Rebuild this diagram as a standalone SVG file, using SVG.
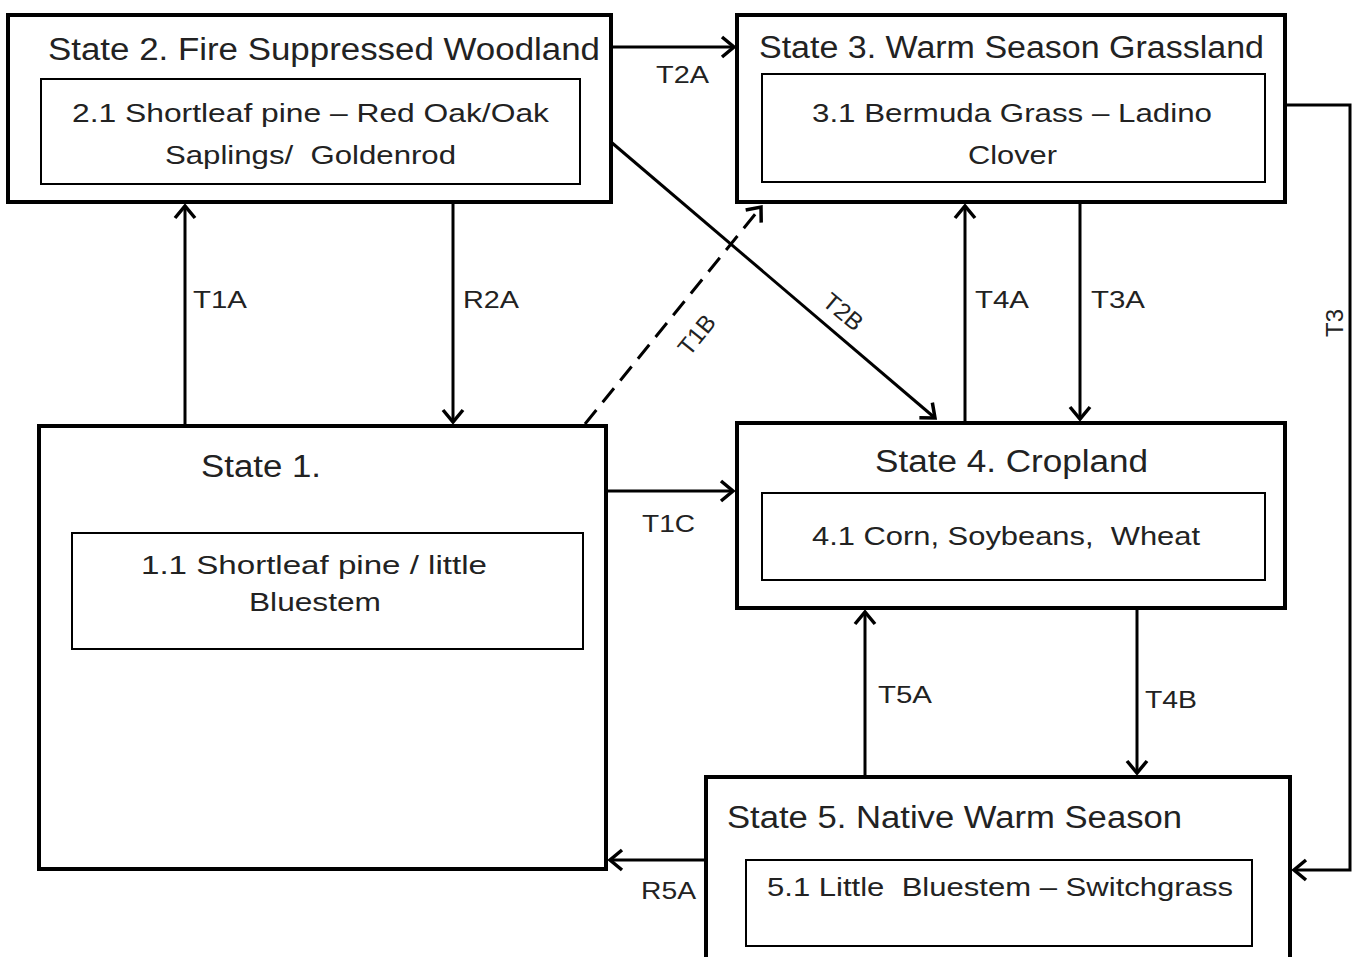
<svg xmlns="http://www.w3.org/2000/svg" width="1355" height="957" viewBox="0 0 1355 957">
<style>
.outer{fill:#fff;stroke:#000;stroke-width:4}
.inner{fill:#fff;stroke:#000;stroke-width:2}
.title{font-family:"Liberation Sans",Arial,sans-serif;font-size:31px;fill:#222}
.sub{font-family:"Liberation Sans",Arial,sans-serif;font-size:25px;fill:#222}
.lbl{font-family:"Liberation Sans",Arial,sans-serif;font-size:24px;fill:#222}
.con{fill:none;stroke:#000;stroke-width:3}
.dash{stroke-dasharray:18 10}
</style>
<defs>
<marker id="arr" markerUnits="userSpaceOnUse" markerWidth="30" markerHeight="30" viewBox="-15 -15 30 30" refX="0" refY="0" orient="auto">
<path d="M-12,-10 L0,0 L-12,10" fill="none" stroke="#000" stroke-width="3.5"/>
</marker>
</defs>
<rect width="1355" height="957" fill="#fff"/>
<g id="connectors">
<line class="con" x1="611" y1="47" x2="734" y2="47" marker-end="url(#arr)"/>
<line class="con" x1="185" y1="426" x2="185" y2="206" marker-end="url(#arr)"/>
<line class="con" x1="453" y1="202" x2="453" y2="422" marker-end="url(#arr)"/>
<line class="con dash" x1="585" y1="424" x2="761" y2="207" marker-end="url(#arr)"/>
<line class="con" x1="611" y1="142" x2="935" y2="418" marker-end="url(#arr)"/>
<line class="con" x1="965" y1="423" x2="965" y2="206" marker-end="url(#arr)"/>
<line class="con" x1="1080" y1="202" x2="1080" y2="419" marker-end="url(#arr)"/>
<polyline class="con" points="1285,105 1350,105 1350,870 1294,870" marker-end="url(#arr)"/>
<line class="con" x1="606" y1="491" x2="733" y2="491" marker-end="url(#arr)"/>
<line class="con" x1="865" y1="777" x2="865" y2="612" marker-end="url(#arr)"/>
<line class="con" x1="1137" y1="608" x2="1137" y2="773" marker-end="url(#arr)"/>
<line class="con" x1="706" y1="860" x2="610" y2="860" marker-end="url(#arr)"/>
<text class="lbl" x="656" y="83" textLength="53" lengthAdjust="spacingAndGlyphs">T2A</text>
<text class="lbl" x="193" y="308" textLength="54" lengthAdjust="spacingAndGlyphs">T1A</text>
<text class="lbl" x="463" y="308" textLength="56" lengthAdjust="spacingAndGlyphs">R2A</text>
<text class="lbl" x="975" y="308" textLength="54" lengthAdjust="spacingAndGlyphs">T4A</text>
<text class="lbl" x="1091" y="308" textLength="54" lengthAdjust="spacingAndGlyphs">T3A</text>
<text class="lbl" x="642" y="532" textLength="53" lengthAdjust="spacingAndGlyphs">T1C</text>
<text class="lbl" x="878" y="703" textLength="54" lengthAdjust="spacingAndGlyphs">T5A</text>
<text class="lbl" x="1145" y="708" textLength="52" lengthAdjust="spacingAndGlyphs">T4B</text>
<text class="lbl" x="641" y="899" textLength="55" lengthAdjust="spacingAndGlyphs">R5A</text>
<text class="lbl" text-anchor="middle" transform="translate(697,335) rotate(-51)" y="8">T1B</text>
<text class="lbl" text-anchor="middle" transform="translate(843,312) rotate(40)" y="8">T2B</text>
<text class="lbl" text-anchor="middle" transform="translate(1335,323) rotate(-90)" y="8">T3</text>
</g>
<g id="state2">
<rect class="outer" x="8" y="15" width="603" height="187"/>
<rect class="inner" x="41" y="79" width="539" height="105"/>
<text class="title" x="48" y="60" textLength="552" lengthAdjust="spacingAndGlyphs">State 2. Fire Suppressed Woodland</text>
<text class="sub" x="72" y="122" textLength="477" lengthAdjust="spacingAndGlyphs">2.1 Shortleaf pine – Red Oak/Oak</text>
<text class="sub" x="165" y="164" textLength="291" lengthAdjust="spacingAndGlyphs" xml:space="preserve">Saplings/  Goldenrod</text>
</g>
<g id="state3">
<rect class="outer" x="737" y="15" width="548" height="187"/>
<rect class="inner" x="762" y="74" width="503" height="108"/>
<text class="title" x="759" y="58" textLength="505" lengthAdjust="spacingAndGlyphs">State 3. Warm Season Grassland</text>
<text class="sub" x="812" y="122" textLength="400" lengthAdjust="spacingAndGlyphs">3.1 Bermuda Grass – Ladino</text>
<text class="sub" x="968" y="164" textLength="89" lengthAdjust="spacingAndGlyphs">Clover</text>
</g>
<g id="state1">
<rect class="outer" x="39" y="426" width="567" height="443"/>
<rect class="inner" x="72" y="533" width="511" height="116"/>
<text class="title" x="201" y="477" textLength="120" lengthAdjust="spacingAndGlyphs">State 1.</text>
<text class="sub" x="141" y="574" textLength="346" lengthAdjust="spacingAndGlyphs">1.1 Shortleaf pine / little</text>
<text class="sub" x="249" y="611" textLength="132" lengthAdjust="spacingAndGlyphs">Bluestem</text>
</g>
<g id="state4">
<rect class="outer" x="737" y="423" width="548" height="185"/>
<rect class="inner" x="762" y="493" width="503" height="87"/>
<text class="title" x="875" y="472" textLength="273" lengthAdjust="spacingAndGlyphs">State 4. Cropland</text>
<text class="sub" x="812" y="545" textLength="388" lengthAdjust="spacingAndGlyphs" xml:space="preserve">4.1 Corn, Soybeans,  Wheat</text>
</g>
<g id="state5">
<rect class="outer" x="706" y="777" width="584" height="200"/>
<rect class="inner" x="746" y="860" width="506" height="86"/>
<text class="title" x="727" y="828" textLength="455" lengthAdjust="spacingAndGlyphs">State 5. Native Warm Season</text>
<text class="sub" x="767" y="896" textLength="466" lengthAdjust="spacingAndGlyphs" xml:space="preserve">5.1 Little  Bluestem – Switchgrass</text>
</g>
</svg>
